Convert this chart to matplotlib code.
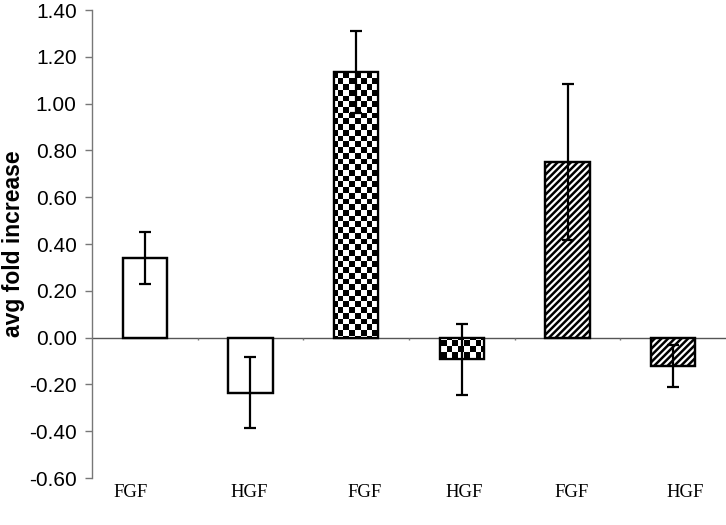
import numpy as np
import matplotlib
matplotlib.use('Agg')
import matplotlib.pyplot as plt
from matplotlib.transforms import ScaledTranslation

# data
labels = ['FGF', 'HGF', 'FGF', 'HGF', 'FGF', 'HGF']
values = [0.34, -0.235, 1.135, -0.093, 0.75, -0.12]
errors = [0.113, 0.152, 0.175, 0.152, 0.335, 0.09]
fills = ['plain', 'plain', 'checker', 'checker', 'diag', 'diag']
yticks = [1.40, 1.20, 1.00, 0.80, 0.60, 0.40, 0.20, 0.00, -0.20, -0.40, -0.60]

# the category labels in the original sit a little off the bar centres (px)
label_shift = [-14, -1, 8, 2, 4, 12]

plt.rcParams['hatch.linewidth'] = 1.8

W, H = 726, 525
fig = plt.figure(figsize=(W / 100, H / 100), dpi=100)
ax = fig.add_axes([92 / W, (H - 478) / H, (726 - 92) / W, 468 / H])

x = np.arange(len(values))
ax.set_xlim(-0.5, len(values) - 0.5)
ax.set_ylim(-0.6, 1.4)

bars = ax.bar(x, values, width=0.42, color='white', edgecolor='black',
              linewidth=1.6, zorder=2)

# checkerboard fill, clipped to the checker bars
cell = 5.7  # px
ncol = int(634 / cell)
nrow = int(468 / cell)
checker = (np.add.outer(np.arange(nrow), np.arange(ncol)) % 2).astype(float)
for b, f in zip(bars, fills):
    if f == 'checker':
        im = ax.imshow(checker, cmap='gray_r', extent=(-0.5, len(values) - 0.5, -0.6, 1.4),
                       aspect='auto', interpolation='nearest', zorder=2.5)
        im.set_clip_path(b)
    elif f == 'diag':
        b.set_hatch('/////')

# redraw outlines on top of the fills
ax.bar(x, values, width=0.42, color='none', edgecolor='black', linewidth=1.6, zorder=3)

ax.errorbar(x, values, yerr=errors, fmt='none', ecolor='black', elinewidth=1.6,
            capsize=4.5, capthick=1.6, zorder=4)

# zero line with small category separators
ax.axhline(0, color='#555555', linewidth=1.0, zorder=1)
ax.vlines(x[:-1] + 0.5, -0.012, 0, color='#777777', linewidth=1.0, zorder=1)

for s in ['top', 'right', 'bottom']:
    ax.spines[s].set_visible(False)
ax.spines['left'].set_color('#777777')
ax.spines['left'].set_linewidth(1.0)

ax.set_yticks(yticks)
ax.set_yticklabels([f'{v:.2f}' for v in yticks], family='Liberation Sans', fontsize=15)
ax.tick_params(axis='y', direction='out', length=5, width=1.0, color='#777777', pad=6)

ax.set_xticks(x)
ax.set_xticklabels(labels, family='Liberation Serif', fontsize=13.5)
ax.tick_params(axis='x', length=0, pad=4)
for lab, dx in zip(ax.get_xticklabels(), label_shift):
    lab.set_transform(lab.get_transform() + ScaledTranslation(dx / 100, 0, fig.dpi_scale_trans))

ax.set_ylabel('avg fold increase', family='Liberation Sans', fontweight='bold',
              fontsize=16.5, labelpad=3)

fig.savefig('out.png', dpi=100)
